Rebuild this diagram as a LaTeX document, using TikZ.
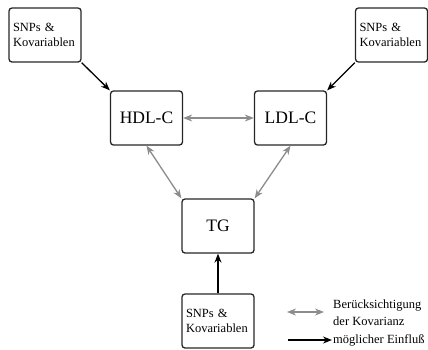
\documentclass[tikz,border=0pt]{standalone}
\usepackage{fontspec}
\setmainfont{Liberation Serif}
\usetikzlibrary{arrows.meta}
\begin{document}
\begin{tikzpicture}[x=1pt,y=-1pt,
  box/.style={draw=black!85,line width=1.3pt,rounded corners=3pt,minimum width=72pt,minimum height=54pt,inner sep=0pt},
  snp/.style={box,align=left,text width=64pt,font=\fontsize{12.5}{15.5}\selectfont},
  big/.style={box,font=\fontsize{17.5}{20}\selectfont},
  infl/.style={-{Stealth[length=9pt,width=7pt]},line width=1.3pt,black},
  cov/.style={{Stealth[length=9pt,width=7pt]}-{Stealth[length=9pt,width=7pt]},line width=1.3pt,black!45},
  lbl/.style={font=\fontsize{12.5}{17}\selectfont,anchor=west,align=left,inner sep=0pt}]
\useasboundingbox (0,0) rectangle (428,349);
\node[snp] (s1) at (45,35) {SNPs \&\\Kovariablen};
\node[snp] (s2) at (391.5,35) {SNPs \&\\Kovariablen};
\node[snp] (s3) at (218,321) {SNPs \&\\Kovariablen};
\node[big] (hdl) at (146.5,118) {HDL-C};
\node[big] (ldl) at (290.5,118) {LDL-C};
\node[big] (tg) at (218,226) {TG};
\draw[infl] (s1.south east) -- (hdl.north west);
\draw[infl] (s2.south west) -- (ldl.north east);
\draw[infl] (s3.north) -- (tg.south);
\draw[cov] (hdl.east) -- (ldl.west);
\draw[cov] (hdl.south) -- (tg.north west);
\draw[cov] (ldl.south) -- (tg.north east);
\coordinate (c1) at (287,312);
\coordinate (c2) at (324,312);
\coordinate (i1) at (288,340);
\coordinate (i2) at (332,340);
\draw[cov] (c1) -- (c2);
\draw[infl] (i1) -- (i2);
\node[lbl] (t1) at (333,313) {Berücksichtigung\\der Kovarianz};
\node[lbl] (t2) at (333,340) {möglicher Einfluß};
\end{tikzpicture}
\end{document}
